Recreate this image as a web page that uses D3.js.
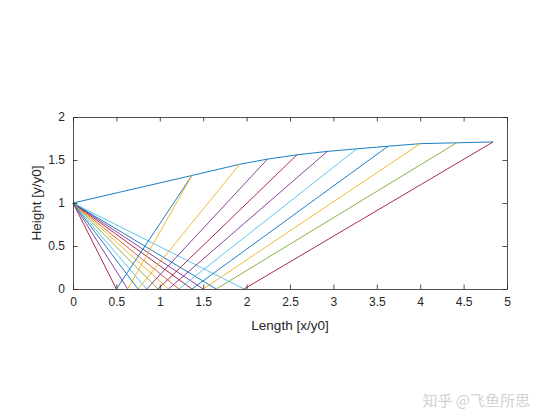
<!DOCTYPE html>
<html>
<head>
<meta charset="utf-8">
<script src="https://cdn.jsdelivr.net/npm/d3@7"></script>
<style>
  html, body { margin: 0; padding: 0; background: #fff; }
  svg { display: block; }
</style>
</head>
<body>
<svg id="chart" width="560" height="420"></svg>
<script>
// ---- data ----
const xTicks = [0, 0.5, 1, 1.5, 2, 2.5, 3, 3.5, 4, 4.5, 5];
const yTicks = [0, 0.5, 1, 1.5, 2];
const startPoint = [0, 1];
// envelope (top curve)
const envelopeX = [0, 1.37, 1.92, 2.24, 2.58, 2.93, 3.27, 3.63, 4.00, 4.42, 4.84];
const envelopeY = [1.0, 1.32, 1.45, 1.51, 1.56, 1.60, 1.63, 1.66, 1.69, 1.70, 1.71];
// incoming rays: from start point down to ground at x
const groundX = [0.50, 0.63, 0.75, 0.85, 0.98, 1.10, 1.22, 1.37, 1.50, 1.65, 1.97];
// outgoing rays: from ground point up to envelope point
const topX = [1.37, 1.37, 1.92, 2.24, 2.58, 2.93, 3.27, 3.63, 4.00, 4.42, 4.84];
const topY = [1.32, 1.32, 1.45, 1.51, 1.56, 1.60, 1.63, 1.66, 1.69, 1.70, 1.71];

// ---- style ----
const palette = ["#0072BD", "#D95319", "#EDB120", "#7E2F8E", "#77AC30", "#4DBEEE", "#A2142F"];
const inColorIdx = [6, 3, 0, 5, 4, 2, 1, 6, 3, 0, 5];
const outColorIdx = [0, 2, 2, 3, 6, 3, 5, 0, 2, 4, 6];

const svg = d3.select("#chart");
const W = 560, H = 420;
const mLeft = 73, mRight = 507, mTop = 117, mBottom = 289;
const axisColor = "#262626";
const font = "'Liberation Sans', Arial, Helvetica, sans-serif";

svg.append("rect").attr("width", W).attr("height", H).attr("fill", "#fff");

const x = d3.scaleLinear().domain([0, 5]).range([mLeft, mRight]);
const y = d3.scaleLinear().domain([0, 2]).range([mBottom, mTop]);

const plot = svg.append("g");
const line = d3.line().x(d => x(d[0])).y(d => y(d[1]));

// envelope
plot.append("path")
  .datum(envelopeX.map((v, i) => [v, envelopeY[i]]))
  .attr("d", line)
  .attr("fill", "none")
  .attr("stroke", palette[0])
  .attr("stroke-width", 0.9);

// incoming
groundX.forEach((g, i) => {
  plot.append("path")
    .datum([startPoint, [g, 0]])
    .attr("d", line)
    .attr("fill", "none")
    .attr("stroke", palette[inColorIdx[i]])
    .attr("stroke-width", 0.9);
});
// outgoing
groundX.forEach((g, i) => {
  plot.append("path")
    .datum([[g, 0], [topX[i], topY[i]]])
    .attr("d", line)
    .attr("fill", "none")
    .attr("stroke", palette[outColorIdx[i]])
    .attr("stroke-width", 0.9);
});

// axes (MATLAB style, ticks inside, box)
const tickLen = 4.5;
const xAxisB = d3.axisBottom(x).tickValues(xTicks).tickSizeInner(-tickLen).tickSizeOuter(0)
  .tickPadding(8).tickFormat(d3.format("~g"));
const xAxisT = d3.axisTop(x).tickValues(xTicks).tickSizeInner(-tickLen).tickSizeOuter(0).tickFormat("");
const yAxisL = d3.axisLeft(y).tickValues(yTicks).tickSizeInner(-tickLen).tickSizeOuter(0)
  .tickPadding(8).tickFormat(d3.format("~g"));
const yAxisR = d3.axisRight(y).tickValues(yTicks).tickSizeInner(-tickLen).tickSizeOuter(0).tickFormat("");

function styleAxis(g) {
  g.selectAll("path.domain").attr("stroke", axisColor).attr("stroke-width", 0.8);
  g.selectAll(".tick line").attr("stroke", axisColor).attr("stroke-width", 0.8);
  g.selectAll(".tick text").attr("fill", axisColor).style("font-family", font).style("font-size", "12px");
}
svg.append("g").attr("transform", `translate(0,${mBottom})`).call(xAxisB).call(styleAxis);
svg.append("g").attr("transform", `translate(0,${mTop})`).call(xAxisT).call(styleAxis);
svg.append("g").attr("transform", `translate(${mLeft},0)`).call(yAxisL).call(styleAxis);
svg.append("g").attr("transform", `translate(${mRight},0)`).call(yAxisR).call(styleAxis);

// labels
svg.append("text")
  .attr("x", (mLeft + mRight) / 2).attr("y", 330)
  .attr("text-anchor", "middle")
  .attr("fill", axisColor)
  .style("font-family", font).style("font-size", "13.5px")
  .text("Length [x/y0]");
svg.append("text")
  .attr("transform", `translate(41,${(mTop + mBottom) / 2}) rotate(-90)`)
  .attr("text-anchor", "middle")
  .attr("fill", axisColor)
  .style("font-family", font).style("font-size", "13.5px")
  .text("Height [y/y0]");

// watermark
svg.append("text")
  .attr("x", 530).attr("y", 406)
  .attr("text-anchor", "end")
  .attr("fill", "#d2d2d2")
  .style("font-family", "'Noto Sans CJK SC', sans-serif").style("font-size", "15px")
  .text("知乎 @飞鱼所思");
</script>
</body>
</html>
